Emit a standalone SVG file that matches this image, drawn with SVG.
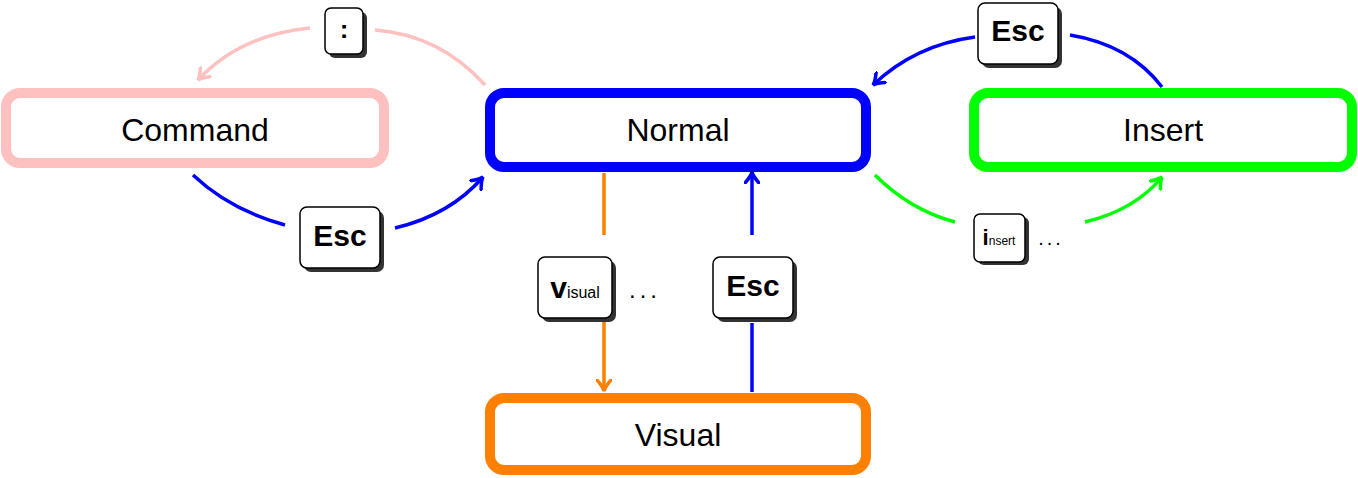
<svg xmlns="http://www.w3.org/2000/svg" width="1358" height="478" viewBox="0 0 1358 478">
<style>
.box{fill:#fff;stroke-width:10}
.lbl{font-family:"Liberation Sans",Arial,sans-serif;font-size:32px;text-anchor:middle;dominant-baseline:central;fill:#000}
.key{fill:#fff;stroke:#000;stroke-width:1.5}
.sh{fill:#333}
.kt{font-family:"Liberation Sans",Arial,sans-serif;font-weight:bold;fill:#000}
.ks{font-family:"Liberation Sans",Arial,sans-serif;fill:#000}
.c{fill:none;stroke-width:3.5}
</style>
<defs>
<marker id="a" viewBox="-12 -8 14 16" markerWidth="14" markerHeight="16" refX="0" refY="0" orient="auto" markerUnits="userSpaceOnUse">
<path d="M-11,-7 Q-4,-1 0,0 Q-4,1 -11,7" fill="none" stroke="context-stroke" stroke-width="3.5" stroke-linecap="round"/>
</marker>
</defs>
<g id="connectors">
<path class="c" stroke="#ffc0c0" d="M485,85 Q440,35 375,30"/>
<path class="c" stroke="#ffc0c0" d="M310,28 Q240,35 198,80" marker-end="url(#a)"/>
<path class="c" stroke="#0000ff" d="M1162,87 Q1130,45 1070,35"/>
<path class="c" stroke="#0000ff" d="M975,37 Q915,45 873,85" marker-end="url(#a)"/>
<path class="c" stroke="#0000ff" d="M193,175 Q230,210 285,225"/>
<path class="c" stroke="#0000ff" d="M395,228 Q450,215 483,177" marker-end="url(#a)"/>
<path class="c" stroke="#00ff00" d="M875,175 Q910,210 955,222"/>
<path class="c" stroke="#00ff00" d="M1085,222 Q1135,210 1162,177" marker-end="url(#a)"/>
<path class="c" stroke="#ff8000" d="M604,173 V235"/>
<path class="c" stroke="#ff8000" d="M604,322 V391" marker-end="url(#a)"/>
<path class="c" stroke="#0000ff" d="M752,392 V323"/>
<path class="c" stroke="#0000ff" d="M752,235 V172" marker-end="url(#a)"/>
</g>
<g id="command"><rect class="box" stroke="#ffc0c0" x="6" y="93" width="378" height="70" rx="14"/><text class="lbl" x="195" y="130">Command</text></g>
<g id="normal"><rect class="box" stroke="#0000ff" x="490" y="93" width="376" height="74" rx="14"/><text class="lbl" x="678" y="130">Normal</text></g>
<g id="insert"><rect class="box" stroke="#00ff00" x="974" y="93" width="378" height="74" rx="14"/><text class="lbl" x="1163" y="130">Insert</text></g>
<g id="visual"><rect class="box" stroke="#ff8000" x="490" y="398" width="376" height="72" rx="14"/><text class="lbl" x="678" y="435">Visual</text></g>
<g id="key-colon"><rect class="sh" x="329" y="12" width="38" height="46" rx="6"/><rect class="key" x="325" y="8" width="38" height="46" rx="6"/><text class="kt" x="344" y="38" font-size="26" text-anchor="middle">:</text></g>
<g id="key-esc-insert"><rect class="sh" x="982" y="7" width="80" height="61" rx="7"/><rect class="key" x="978" y="3" width="80" height="61" rx="7"/><text class="kt" x="1018" y="41" font-size="30" text-anchor="middle">Esc</text></g>
<g id="key-esc-command"><rect class="sh" x="304" y="211" width="80" height="61" rx="7"/><rect class="key" x="300" y="207" width="80" height="61" rx="7"/><text class="kt" x="340" y="246" font-size="30" text-anchor="middle">Esc</text></g>
<g id="key-esc-visual"><rect class="sh" x="717" y="261" width="80" height="61" rx="7"/><rect class="key" x="713" y="257" width="80" height="61" rx="7"/><text class="kt" x="753" y="296" font-size="30" text-anchor="middle">Esc</text></g>
<g id="key-v"><rect class="sh" x="542" y="261" width="74" height="61" rx="7"/><rect class="key" x="538" y="257" width="74" height="61" rx="7"/><text x="575" y="298" text-anchor="middle"><tspan class="kt" font-size="30">v</tspan><tspan class="ks" font-size="16">isual</tspan></text><text class="ks" x="645" y="298" font-size="24" text-anchor="middle" letter-spacing="4">...</text></g>
<g id="key-i"><rect class="sh" x="978" y="217" width="51" height="48" rx="6"/><rect class="key" x="974" y="214" width="51" height="48" rx="6"/><text x="999" y="245" text-anchor="middle"><tspan class="kt" font-size="22">i</tspan><tspan class="ks" font-size="12">nsert</tspan></text><text class="ks" x="1051" y="245" font-size="20" text-anchor="middle" letter-spacing="3">...</text></g>
</svg>
